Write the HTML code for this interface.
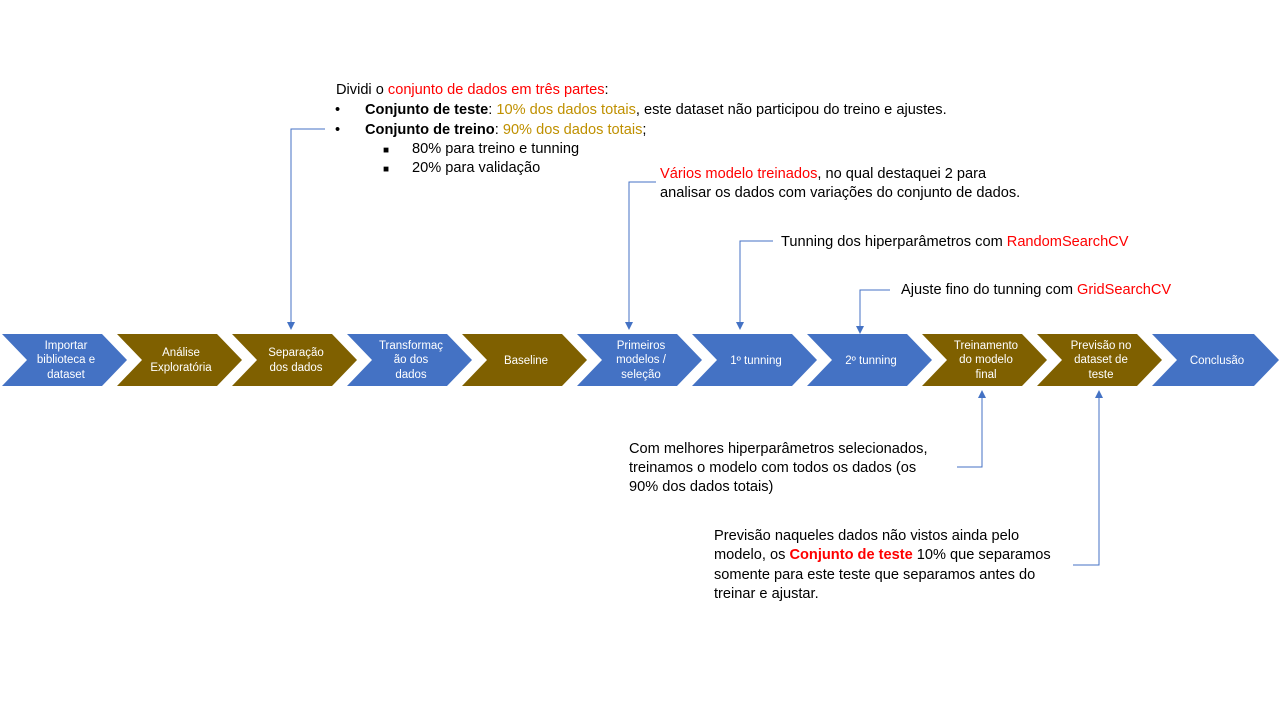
<!DOCTYPE html>
<html><head><meta charset="utf-8"><style>
html,body{margin:0;padding:0;background:#fff;width:1280px;height:720px;overflow:hidden}
svg text{font-family:"Liberation Sans",sans-serif}
.t{font-size:14.6px;fill:#000}
.c{font-size:11.5px;fill:#fff;text-anchor:middle}
.r{fill:#ff0000}.o{fill:#bf9000}.b{font-weight:bold}
</style></head><body>
<svg width="1280" height="720" viewBox="0 0 1280 720" xmlns="http://www.w3.org/2000/svg">
<defs><marker id="a" markerWidth="8" markerHeight="8" refX="4" refY="4" orient="auto"><path d="M0,0 L8,4 L0,8 z" fill="#4472c4"/></marker></defs>
<g id="ch">
<polygon points="2,334 102,334 127,360 102,386 2,386 27,360" fill="#4472c4"/>
<polygon points="117,334 217,334 242,360 217,386 117,386 142,360" fill="#7f6000"/>
<polygon points="232,334 332,334 357,360 332,386 232,386 257,360" fill="#7f6000"/>
<polygon points="347,334 447,334 472,360 447,386 347,386 372,360" fill="#4472c4"/>
<polygon points="462,334 562,334 587,360 562,386 462,386 487,360" fill="#7f6000"/>
<polygon points="577,334 677,334 702,360 677,386 577,386 602,360" fill="#4472c4"/>
<polygon points="692,334 792,334 817,360 792,386 692,386 717,360" fill="#4472c4"/>
<polygon points="807,334 907,334 932,360 907,386 807,386 832,360" fill="#4472c4"/>
<polygon points="922,334 1022,334 1047,360 1022,386 922,386 947,360" fill="#7f6000"/>
<polygon points="1037,334 1137,334 1162,360 1137,386 1037,386 1062,360" fill="#7f6000"/>
<polygon points="1152,334 1254,334 1279,360 1254,386 1152,386 1177,360" fill="#4472c4"/>
</g>
<g class="c">
<text x="66" y="349">Importar</text><text x="66" y="363">biblioteca e</text><text x="66" y="378">dataset</text>
<text x="181" y="356">Análise</text><text x="181" y="371">Exploratória</text>
<text x="296" y="356">Separação</text><text x="296" y="371">dos dados</text>
<text x="411" y="349">Transformaç</text><text x="411" y="363">ão dos</text><text x="411" y="378">dados</text>
<text x="526" y="364">Baseline</text>
<text x="641" y="349">Primeiros</text><text x="641" y="363">modelos /</text><text x="641" y="378">seleção</text>
<text x="756" y="364">1º tunning</text>
<text x="871" y="364">2º tunning</text>
<text x="986" y="349">Treinamento</text><text x="986" y="363">do modelo</text><text x="986" y="378">final</text>
<text x="1101" y="349">Previsão no</text><text x="1101" y="363">dataset de</text><text x="1101" y="378">teste</text>
<text x="1217" y="364">Conclusão</text>
</g>
<g fill="none" stroke="#4472c4" stroke-width="1">
<polyline points="325,129 291,129 291,326" marker-end="url(#a)"/>
<polyline points="656,182 629,182 629,326" marker-end="url(#a)"/>
<polyline points="773,241 740,241 740,326" marker-end="url(#a)"/>
<polyline points="890,290 860,290 860,330" marker-end="url(#a)"/>
<polyline points="957,467 982,467 982,394" marker-end="url(#a)"/>
<polyline points="1073,565 1099,565 1099,394" marker-end="url(#a)"/>
</g>
<g class="t">
<text x="336" y="94">Dividi o <tspan class="r">conjunto de dados em três partes</tspan>:</text>
<text x="335" y="114">•</text><text x="365" y="114"><tspan class="b">Conjunto de teste</tspan>: <tspan class="o">10% dos dados totais</tspan>, este dataset não participou do treino e ajustes.</text>
<text x="335" y="134">•</text><text x="365" y="134"><tspan class="b">Conjunto de treino</tspan>: <tspan class="o">90% dos dados totais</tspan>;</text>
<text x="383" y="153" style="font-size:10px">■</text><text x="412" y="153">80% para treino e tunning</text>
<text x="383" y="172" style="font-size:10px">■</text><text x="412" y="172">20% para validação</text>
<text x="660" y="178"><tspan class="r">Vários modelo treinados</tspan>, no qual destaquei 2 para</text>
<text x="660" y="197">analisar os dados com variações do conjunto de dados.</text>
<text x="781" y="246">Tunning dos hiperparâmetros com <tspan class="r">RandomSearchCV</tspan></text>
<text x="901" y="294">Ajuste fino do tunning com <tspan class="r">GridSearchCV</tspan></text>
<text x="629" y="453">Com melhores hiperparâmetros selecionados,</text>
<text x="629" y="472">treinamos o modelo com todos os dados (os</text>
<text x="629" y="491">90% dos dados totais)</text>
<text x="714" y="540">Previsão naqueles dados não vistos ainda pelo</text>
<text x="714" y="559">modelo, os <tspan class="r b">Conjunto de teste</tspan> 10% que separamos</text>
<text x="714" y="579">somente para este teste que separamos antes do</text>
<text x="714" y="598">treinar e ajustar.</text>
</g>
</svg>
</body></html>
